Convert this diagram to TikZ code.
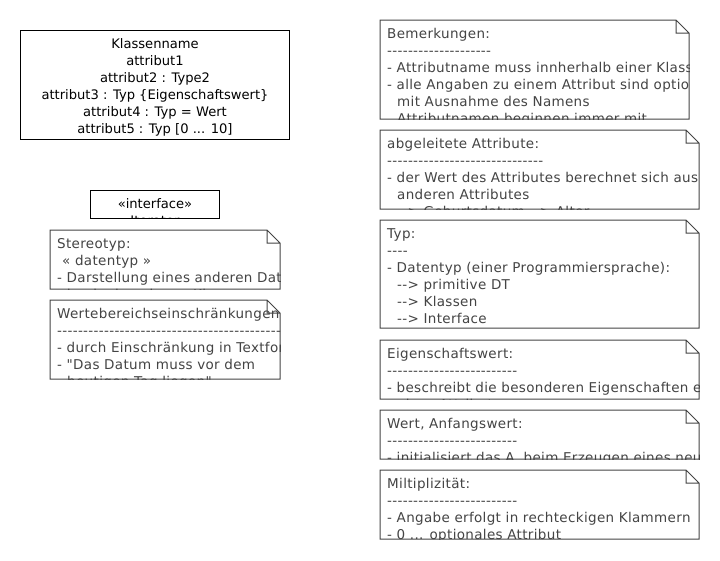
\documentclass[tikz,border=0pt]{standalone}
\usepackage{fontspec}
\newfontfamily\umlfont{DejaVu Sans}
\newfontfamily\notefont{DejaVu Sans}[LetterSpace=2.5]
\usetikzlibrary{positioning}
\definecolor{notegray}{HTML}{444444}
\newcommand{\threedots}{...}

% note with folded corner: name, left, top, right, bottom, lines
\newcommand{\umlnote}[6]{%
  \draw[noteframe] (#2,#3) -- (#4-13,#3) -- (#4,#3+13) -- (#4,#5) -- (#2,#5) -- cycle
    (#4-13,#3) -- (#4-13,#3+13) -- (#4,#3+13);
  \begin{scope}
    \clip (#2,#3) rectangle (#4,#5);
    \foreach \txt [count=\i] in {#6}
      \node[notetext] (#1-\i) at (#2+7,#3+1+17*\i) {\txt};
  \end{scope}}

\begin{document}
\begin{tikzpicture}[x=1pt,y=-1pt]
\tikzstyle{noteframe}=[draw=notegray,line width=1pt,fill=white]
\tikzstyle{notetext}=[anchor=base west,inner sep=0pt,text=notegray,font=\notefont\fontsize{13.5}{17}\selectfont]
\tikzstyle{classbox}=[draw=black,line width=1pt,inner sep=0pt]
\tikzstyle{classtext}=[anchor=base,inner sep=0pt,text=black,font=\umlfont\fontsize{13.1}{17}\selectfont]
\useasboundingbox (0,0) rectangle (720,560);

% class
\node[classbox,minimum width=269pt,minimum height=109pt] (klasse) at (155,84.5) {};
\foreach \txt [count=\i] in {{Klassenname},{attribut1},{attribut2 : Type2},
    {attribut3 : Typ \{Eigenschaftswert\}},{attribut4 : Typ = Wert},{attribut5 : Typ [0 \threedots{} 10]}}
  \node[classtext] (klasse-\i) at (155,31+17*\i) {\txt};

% interface
\node[classbox,minimum width=129pt,minimum height=28pt] (iface) at (155,204) {};
\begin{scope}
  \clip (90.5,190) rectangle (219.5,218);
  \node[classtext] (iface-1) at (155,208) {«interface»};
  \node[classtext] (iface-2) at (155,225) {Iterator};
\end{scope}

% notes left
\umlnote{stereo}{50}{230}{280}{289}{{Stereotyp:},{\hspace*{5pt}« datentyp »},
  {- Darstellung eines anderen Datentyps},{\hspace*{5pt}durch eine eigene Klasse}}
\umlnote{werte}{50}{300}{280}{379}{{Wertebereichseinschränkungen:},
  {--------------------------------------------------},
  {- durch Einschränkung in Textform},{- "Das Datum muss vor dem},
  {\hspace*{10pt}heutigen Tag liegen"}}

% notes right
\umlnote{bem}{380}{20}{689}{119}{{Bemerkungen:},{--------------------},
  {- Attributname muss innherhalb einer Klasse eindeutig sein},
  {- alle Angaben zu einem Attribut sind optional,},
  {\hspace*{10pt}mit Ausnahme des Namens},
  {\hspace*{10pt}Attributnamen beginnen immer mit}}
\umlnote{abgel}{380}{130}{699}{209}{{abgeleitete Attribute:},{------------------------------},
  {- der Wert des Attributes berechnet sich aus},{\hspace*{10pt}anderen Attributes},
  {\hspace*{10pt}--> Geburtsdatum --> Alter}}
\umlnote{typ}{380}{220}{699}{328}{{Typ:},{----},
  {- Datentyp (einer Programmiersprache):},{\hspace*{10pt}--> primitive DT},
  {\hspace*{10pt}--> Klassen},{\hspace*{10pt}--> Interface}}
\umlnote{eigen}{380}{340}{699}{399}{{Eigenschaftswert:},{-------------------------},
  {- beschreibt die besonderen Eigenschaften eines Attributes},
  {\hspace*{10pt}eines Attributes}}
\umlnote{wert}{380}{410}{699}{459}{{Wert, Anfangswert:},{-------------------------},
  {- initialisiert das A. beim Erzeugen eines neuen Objektes}}
\umlnote{multi}{380}{470}{699}{539}{{Miltiplizität:},{-------------------------},
  {- Angabe erfolgt in rechteckigen Klammern},{- 0 \threedots{} optionales Attribut}}
\end{tikzpicture}
\end{document}
